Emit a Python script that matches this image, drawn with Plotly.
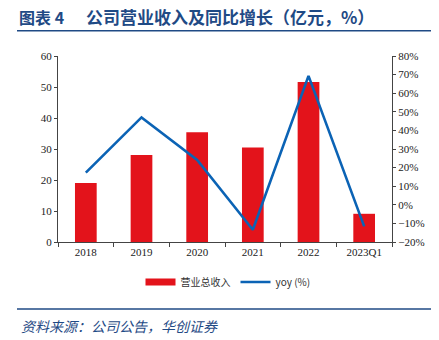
import plotly.graph_objects as go

# Company revenue (100M CNY) and year-over-year growth (%)
categories = ["2018", "2019", "2020", "2021", "2022", "2023Q1"]
revenue = [19.0, 28.1, 35.4, 30.5, 51.6, 9.1]
yoy = [17.3, 47.0, 24.1, -13.4, 69.3, -11.6]

W, H = 439, 340
ML, MR, MT, MB = 58, 47, 56, 98
PW, PH = W - ML - MR, H - MT - MB


def px_x(p):
    return (p - ML) / PW


def px_y(p):
    return (H - MB - p) / PH


SERIF = "Liberation Serif, Times New Roman, serif"
CJK = "Noto Sans CJK SC, sans-serif"
RED = "#E3131B"
BLUE = "#0B63B5"
NAVY = "#1F4A85"

fig = go.Figure()
fig.add_trace(go.Bar(
    x=categories, y=revenue, name="营业总收入", marker_color=RED,
    marker_line_width=0, width=0.39, showlegend=False, yaxis="y",
))
# legend entry for the bars, drawn as a thick line swatch
fig.add_trace(go.Scatter(
    x=[None], y=[None], mode="lines", name="营业总收入",
    line=dict(color=RED, width=7), yaxis="y",
))
fig.add_trace(go.Scatter(
    x=categories, y=yoy, mode="lines", name="yoy (%)",
    line=dict(color=BLUE, width=2.6), yaxis="y2",
))

axis_common = dict(
    showgrid=False, zeroline=False, showline=True, linecolor="#444444",
    linewidth=1, ticks="outside", ticklen=3, tickcolor="#444444",
    tickfont=dict(family=SERIF, size=11, color="#222222"),
)

fig.update_layout(
    width=W, height=H,
    margin=dict(l=ML, r=MR, t=MT, b=MB),
    plot_bgcolor="white", paper_bgcolor="white",
    bargap=0.6,
    xaxis=dict(
        type="category", tickson="boundaries", ticklen=4,
        **{k: v for k, v in axis_common.items() if k != "ticklen"},
    ),
    yaxis=dict(range=[0, 60], dtick=10, **axis_common),
    yaxis2=dict(
        range=[-20, 80], dtick=10, ticksuffix="%", overlaying="y",
        side="right", **axis_common,
    ),
    legend=dict(
        orientation="h", x=px_x(228), xanchor="center", y=px_y(282),
        yanchor="middle", font=dict(family=CJK, size=10, color="#333333"),
        itemwidth=30, tracegroupgap=0,
    ),
    showlegend=True,
)

fig.add_annotation(
    text="<b>图表 4</b>",
    xref="paper", yref="paper", x=px_x(17), y=px_y(17),
    xanchor="left", yanchor="middle", showarrow=False,
    font=dict(family=CJK, size=16, color=NAVY),
)
fig.add_annotation(
    text="<b>公司营业收入及同比增长（亿元，%）</b>",
    xref="paper", yref="paper", x=px_x(84), y=px_y(17),
    xanchor="left", yanchor="middle", showarrow=False,
    font=dict(family=CJK, size=17, color=NAVY),
)
fig.add_annotation(
    text="<i>资料来源：公司公告，华创证券</i>",
    xref="paper", yref="paper", x=px_x(19), y=px_y(326),
    xanchor="left", yanchor="middle", showarrow=False,
    font=dict(family=CJK, size=14, color=NAVY),
)
for yy, lw in ((30.7, 1.6), (309, 1.6)):
    fig.add_shape(
        type="line", xref="paper", yref="paper",
        x0=px_x(17), x1=px_x(431), y0=px_y(yy), y1=px_y(yy),
        line=dict(color=NAVY, width=lw),
    )

fig.write_html("out.html")
